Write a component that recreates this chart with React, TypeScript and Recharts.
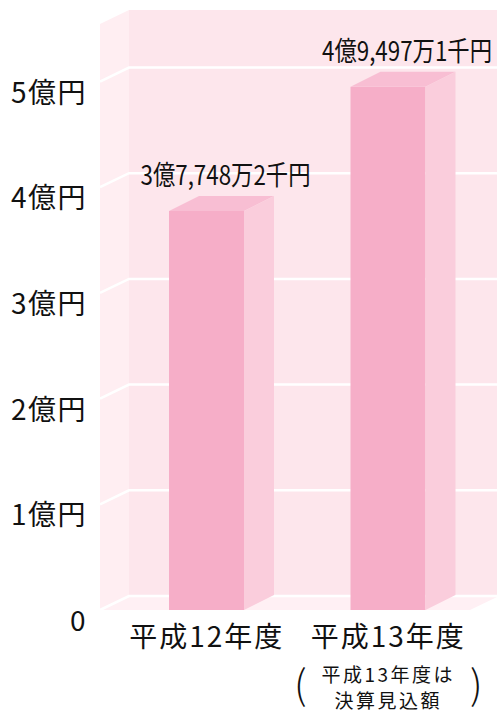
import { Bar, BarChart, LabelList, ReferenceArea, XAxis, YAxis } from "recharts";

const YEARS = ["平成12年度", "平成13年度"];
const AMOUNTS = [3.77482, 4.94971]; // 億円
const AMOUNT_LABELS = ["3億7,748万2千円", "4億9,497万1千円"];
const Y_TICKS = [0, 1, 2, 3, 4, 5];
const Y_TICK_LABELS = ["0", "1億円", "2億円", "3億円", "4億円", "5億円"];
const NOTE_LINES = ["平成13年度は", "決算見込額"];
const Y_MAX = 5.544;

const data = YEARS.map((year, i) => ({ year, amount: AMOUNTS[i], label: AMOUNT_LABELS[i] }));

const FONT = '"Noto Sans CJK JP", "Noto Sans", sans-serif';
const C = {
  front: "#f6aec8",
  top: "#f8bed3",
  side: "#facddc",
  back: "#fde6ec",
  wall: "#ffeef2",
  floor: "#fff0f4",
  grid: "#ffffff",
};
// depth of the box and of the bars
const DX = 29;
const DY = 14;
const BAR_DX = 30;
const BAR_DY = 15;

const Room = (props: any) => {
  const { x, y, width, height } = props;
  const L = x - 16;
  const R = x + width - 9;
  const T = y;
  const B = y + height;
  const py = (v: number) => B - (height * v) / Y_MAX;
  return (
    <g>
      <rect x={L + DX} y={T - DY} width={R - L} height={B - T} fill={C.back} />
      <polygon points={`${L},${T} ${L + DX},${T - DY} ${L + DX},${B - DY} ${L},${B}`} fill={C.wall} />
      <polygon points={`${L},${B} ${L + DX},${B - DY} ${R + DX},${B - DY} ${R},${B}`} fill={C.floor} />
      {Y_TICKS.map((v) => (
        <polyline
          key={v}
          points={`${L},${py(v)} ${L + DX},${py(v) - DY} ${R + DX},${py(v) - DY}`}
          fill="none"
          stroke={C.grid}
          strokeWidth={2.5}
        />
      ))}
    </g>
  );
};

const Bar3D = (props: any) => {
  const { x, y, width, height } = props;
  return (
    <g>
      <rect x={x} y={y} width={width} height={height} fill={C.front} />
      <polygon
        points={`${x},${y} ${x + BAR_DX},${y - BAR_DY} ${x + width + BAR_DX},${y - BAR_DY} ${x + width},${y}`}
        fill={C.top}
      />
      <polygon
        points={`${x + width},${y} ${x + width + BAR_DX},${y - BAR_DY} ${x + width + BAR_DX},${y + height - BAR_DY} ${x + width},${y + height}`}
        fill={C.side}
      />
    </g>
  );
};

const AmountLabel = (props: any) => {
  const { x, y, width, value } = props;
  return (
    <text
      x={x + width / 2 + 19}
      y={y - 26}
      textAnchor="middle"
      fontFamily={FONT}
      fontSize={27}
      fill="#111"
      textLength={170}
      lengthAdjust="spacingAndGlyphs"
    >
      {value}
    </text>
  );
};

const YTick = (props: any) => {
  const { x, y, payload } = props;
  const i = Y_TICKS.indexOf(payload.value);
  return (
    <text
      x={x - 29}
      y={y + 21}
      textAnchor="end"
      fontFamily={FONT}
      fontSize={28}
      fill="#111"
      style={{ letterSpacing: 1.5 }}
    >
      {Y_TICK_LABELS[i]}
    </text>
  );
};

const XTick = (props: any) => {
  const { x, y, payload, index } = props;
  return (
    <g>
      <text x={x} y={y + 37} textAnchor="middle" fontFamily={FONT} fontSize={28} fill="#111" style={{ letterSpacing: 2 }}>
        {payload.value}
      </text>
      {index === 1 && (
        <g fontFamily={FONT} fill="#111">
          <text x={x - 88} y={y + 89} textAnchor="middle" fontSize={40} fontWeight={300}>
            (
          </text>
          <text x={x + 88} y={y + 89} textAnchor="middle" fontSize={40} fontWeight={300}>
            )
          </text>
          {NOTE_LINES.map((line, k) => (
            <text key={k} x={x} y={y + 72 + k * 26} textAnchor="middle" fontSize={19} style={{ letterSpacing: 2.5 }}>
              {line}
            </text>
          ))}
        </g>
      )}
    </g>
  );
};

export default function App() {
  return (
    <div style={{ position: "absolute", left: 0, top: 0, background: "#fff" }}>
      <BarChart width={497} height={712} data={data} margin={{ top: 24, right: 18, bottom: 0, left: 0 }}>
        <XAxis
          dataKey="year"
          axisLine={false}
          tickLine={false}
          tickSize={0}
          tickMargin={0}
          height={102}
          interval={0}
          tick={<XTick />}
        />
        <YAxis
          domain={[0, Y_MAX]}
          ticks={Y_TICKS}
          axisLine={false}
          tickLine={false}
          tickSize={0}
          tickMargin={0}
          width={116}
          tick={<YTick />}
        />
        <ReferenceArea y1={0} y2={Y_MAX} shape={<Room />} />
        <Bar dataKey="amount" barSize={75} shape={<Bar3D />} isAnimationActive={false}>
          <LabelList dataKey="label" content={<AmountLabel />} />
        </Bar>
      </BarChart>
    </div>
  );
}
